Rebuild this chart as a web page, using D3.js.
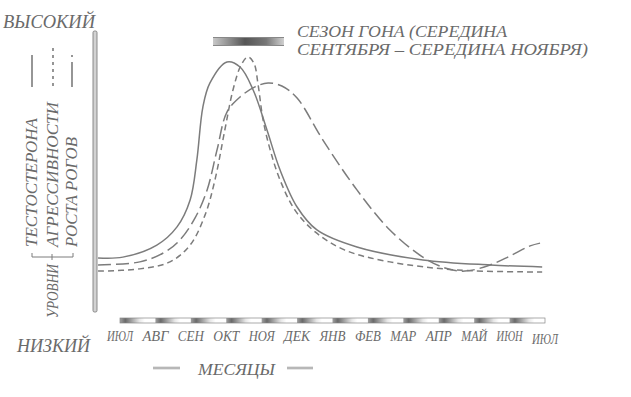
<html>
<head>
    <meta charset="utf-8">
    <script src="https://d3js.org/d3.v7.min.js"></script>
    <style type="text/css">
    body { margin: 0; background: #fff; }
    text { font-family: "Liberation Serif", "DejaVu Serif", serif; font-style: italic; fill: #6a6a6a; }
    </style>
</head>
<body>
<script type="text/javascript">
    // month labels along the bottom (jul -> jul)
    var months = ["ИЮЛ", "АВГ", "СЕН", "ОКТ", "НОЯ", "ДЕК", "ЯНВ", "ФЕВ", "МАР", "АПР", "МАЙ", "ИЮН", "ИЮЛ"];

    // [month index, level 0..100]
    var testosterone = [[-0.62, 19.3], [0.08, 19.6], [1.04, 23.9], [1.61, 30.4], [1.98, 40], [2.17, 54.3],
        [2.34, 73.2], [2.54, 81.8], [3.02, 89.3], [3.39, 87.5], [3.76, 79.3], [4.15, 65], [4.52, 50.7],
        [5.0, 37.5], [5.56, 29.3], [6.69, 23.2], [8.55, 18.6], [10.45, 16.8], [11.92, 16.1]];

    var aggression = [[-0.62, 14.6], [0.56, 15.4], [1.41, 17.9], [1.98, 23.9], [2.4, 34.6], [2.68, 47.1],
        [2.96, 65], [3.19, 79.3], [3.42, 88.2], [3.61, 91.1], [3.78, 88.9], [3.9, 81.1], [4.04, 68.6],
        [4.24, 57.9], [4.52, 47.1], [4.94, 36.4], [5.51, 28.6], [6.35, 22.1], [7.62, 17.9], [9.52, 15],
        [11.92, 14.3]];

    var horns = [[-0.62, 16.8], [0.56, 17.9], [1.27, 21.4], [1.69, 25.7], [2.12, 33.6], [2.46, 43.6],
        [2.74, 57.9], [3.02, 71.4], [3.39, 76.8], [3.81, 80.4], [4.18, 81.8], [4.57, 80.7], [5.0, 76.4],
        [5.73, 61.4], [6.69, 43.6], [7.62, 29.3], [8.55, 19.6], [9.18, 15.7], [9.74, 14.6], [10.45, 16.8],
        [11.01, 20], [11.58, 23.6], [11.86, 24.6]];

    var legendNames = ["ТЕСТОСТЕРОНА", "АГРЕССИВНОСТИ", "РОСТА РОГОВ"];
    var titleLines = ["СЕЗОН ГОНА (СЕРЕДИНА", "СЕНТЯБРЯ – СЕРЕДИНА НОЯБРЯ)"];

    function draw() {
        "use strict";
        var width = 631, height = 397;
        var grey = "#7c7c7c";

        var svg = d3.select("body").append("svg")
            .attr("width", width)
            .attr("height", height);

        var x = d3.scaleLinear().domain([0, 12]).range([120, 545]);
        var y = d3.scaleLinear().domain([0, 100]).range([312, 32]);

        var defs = svg.append("defs");
        var g1 = defs.append("linearGradient").attr("id", "seg");
        g1.append("stop").attr("offset", "0%").attr("stop-color", "#a0a0a0");
        g1.append("stop").attr("offset", "15%").attr("stop-color", "#6a6a6a");
        g1.append("stop").attr("offset", "55%").attr("stop-color", "#e8e8e8");
        g1.append("stop").attr("offset", "70%").attr("stop-color", "#fff");
        var g2 = defs.append("linearGradient").attr("id", "season");
        g2.append("stop").attr("offset", "0%").attr("stop-color", "#c8c8c8");
        g2.append("stop").attr("offset", "45%").attr("stop-color", "#555");
        g2.append("stop").attr("offset", "75%").attr("stop-color", "#777");
        g2.append("stop").attr("offset", "100%").attr("stop-color", "#d0d0d0");

        // vertical axis (double pen line)
        svg.append("rect")
            .attr("x", 93).attr("y", 31).attr("width", 4).attr("height", 281)
            .attr("rx", 1.5)
            .attr("fill", "#d2d2d2").attr("stroke", "#808080").attr("stroke-width", 0.9);

        svg.append("text").attr("x", 3).attr("y", 28)
            .attr("textLength", 92).attr("lengthAdjust", "spacingAndGlyphs")
            .style("font-size", "18px").text("ВЫСОКИЙ");
        svg.append("text").attr("x", 17).attr("y", 352)
            .attr("textLength", 73).attr("lengthAdjust", "spacingAndGlyphs")
            .style("font-size", "18px").text("НИЗКИЙ");

        // month strip
        var segW = x(1) - x(0);
        svg.selectAll(".seg").data(d3.range(12)).enter().append("rect")
            .attr("class", "seg")
            .attr("x", function (d) { return x(d); })
            .attr("y", 318).attr("width", segW).attr("height", 5)
            .attr("fill", "url(#seg)");
        svg.append("rect").attr("x", x(0)).attr("y", 318)
            .attr("width", x(12) - x(0)).attr("height", 5)
            .attr("fill", "none").attr("stroke", "#888").attr("stroke-width", 0.7);

        svg.selectAll(".month").data(months).enter().append("text")
            .attr("class", "month")
            .attr("x", function (d, i) { return x(i); })
            .attr("y", function (d, i) { return i === 12 ? 344 : 341; })
            .attr("textLength", 26).attr("lengthAdjust", "spacingAndGlyphs")
            .style("text-anchor", "middle")
            .style("font-size", "15px")
            .text(function (d) { return d; });

        svg.append("text").attr("x", 198).attr("y", 375)
            .attr("textLength", 77).attr("lengthAdjust", "spacingAndGlyphs")
            .style("font-size", "16px").text("МЕСЯЦЫ");
        [[153, 180], [287, 313]].forEach(function (s) {
            svg.append("line").attr("x1", s[0]).attr("x2", s[1]).attr("y1", 368).attr("y2", 368)
                .attr("stroke", "#999").attr("stroke-width", 2.5);
            svg.append("line").attr("x1", s[0]).attr("x2", s[1]).attr("y1", 368).attr("y2", 368)
                .attr("stroke", "#e4e4e4").attr("stroke-width", 0.8);
        });

        // rut season bar + title
        svg.append("rect").attr("x", 213).attr("y", 38).attr("width", 71).attr("height", 7)
            .attr("fill", "url(#season)");
        svg.append("line").attr("x1", 213).attr("x2", 284).attr("y1", 37.5).attr("y2", 37.5)
            .attr("stroke", "#888").attr("stroke-width", 1);
        svg.append("line").attr("x1", 213).attr("x2", 284).attr("y1", 45.5).attr("y2", 45.5)
            .attr("stroke", "#888").attr("stroke-width", 1);
        svg.selectAll(".title").data(titleLines).enter().append("text")
            .attr("class", "title")
            .attr("x", 297)
            .attr("y", function (d, i) { return 37 + i * 18; })
            .attr("textLength", function (d, i) { return i === 0 ? 210 : 291; })
            .attr("lengthAdjust", "spacingAndGlyphs")
            .style("font-size", "17px")
            .text(function (d) { return d; });

        // legend: rotated names, samples, bracket
        var legX = [37, 58, 77], legLen = [129, 145, 110];
        var dashes = [null, "3,4", "2,5,30"];
        legendNames.forEach(function (name, i) {
            svg.append("text")
                .attr("transform", "translate(" + legX[i] + ",247) rotate(-90)")
                .attr("textLength", legLen[i]).attr("lengthAdjust", "spacingAndGlyphs")
                .style("font-size", "16px")
                .text(name);
            svg.append("line")
                .attr("x1", legX[i] - 5).attr("x2", legX[i] - 5)
                .attr("y1", i === 1 ? 48 : 55).attr("y2", 87)
                .attr("stroke", grey).attr("stroke-width", 1.6)
                .attr("stroke-dasharray", dashes[i]);
        });
        svg.append("path")
            .attr("d", "M32,253V257H73V253M52,254V260")
            .attr("fill", "none").attr("stroke", grey).attr("stroke-width", 1);
        svg.append("text")
            .attr("transform", "translate(58,318) rotate(-90)")
            .attr("textLength", 54).attr("lengthAdjust", "spacingAndGlyphs")
            .style("font-size", "16px")
            .text("УРОВНИ");

        // curves
        var line = d3.line()
            .x(function (d) { return x(d[0]); })
            .y(function (d) { return y(d[1]); })
            .curve(d3.curveCatmullRom.alpha(0.5));

        var series = [
            { data: testosterone, dash: null },
            { data: aggression, dash: "6,4" },
            { data: horns, dash: "13,5" }
        ];
        series.forEach(function (s) {
            svg.append("path")
                .datum(s.data)
                .attr("d", line)
                .attr("fill", "none")
                .attr("stroke", grey)
                .attr("stroke-width", 1.5)
                .attr("stroke-dasharray", s.dash);
        });
    }

    draw();
</script>
</body>
</html>
